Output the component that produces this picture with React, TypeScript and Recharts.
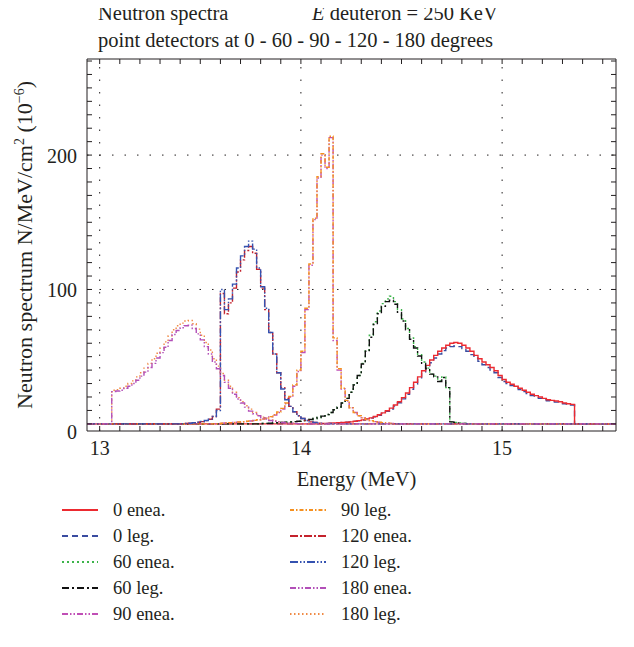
import React from 'react';
import { LineChart, Line, XAxis, YAxis, ReferenceLine, Legend } from 'recharts';

const X_MIN = 12.937;
const X_MAX = 15.566;
const Y_MIN = -5.3;
const Y_MAX = 271.5;
const STEP = 0.02; // histogram bin width used for the readings below (MeV)

const xLabels = [13, 14, 15];
const yLabels = [0, 100, 200];
const gridX = [13, 14, 15];
const gridY = [100, 200];

// 0 degrees, bins from 14.10 MeV
const start0 = 14.1;
const enea0 = [
  0.3, 0.4, 0.5, 0.6, 0.8, 1, 1.2, 1.5, 1.9, 2.4,
  3, 3.7, 4.5, 5.5, 6.8, 8.2, 9.8, 11.7, 14, 16.5,
  19.5, 23, 27, 31, 35, 39.5, 43.5, 47.5, 51, 54,
  56.5, 58.5, 60, 60.5, 60, 58.5, 56.5, 54, 51, 48.5,
  46, 44, 42, 39.5, 36, 33, 31, 29.5, 28, 26.5,
  25, 23.5, 22, 21, 20, 19, 18, 17.5, 17, 16.5,
  15.5, 15, 14.5, 0,
];
const leg0 = [
  0.3, 0.4, 0.5, 0.6, 0.8, 1, 1.2, 1.5, 1.9, 2.3,
  2.9, 3.5, 4.3, 5.2, 6.4, 7.8, 9.3, 11.1, 13.3, 15.7,
  18.6, 22, 25.8, 29.6, 33.5, 37.8, 41.7, 45.5, 49, 52,
  54.5, 56.5, 57.5, 58, 57.5, 56, 54, 51.5, 49, 46.5,
  44, 42, 40, 38, 34.5, 31.5, 30, 28.5, 27, 25.5,
  24, 22.5, 21, 20, 19, 18, 17.2, 16.7, 16.2, 15.7,
  15, 14.5, 14, 0,
];

// 60 degrees, bins from 13.80 MeV
const start60 = 13.8;
const enea60 = [
  0.3, 0.4, 0.5, 0.6, 0.8, 1, 1.2, 1.4, 1.7, 2,
  2.4, 2.8, 3.3, 4, 4.8, 5.8, 7, 8.5, 10.5, 12.5,
  15.5, 19, 23.5, 29, 36, 45, 55, 66, 76, 84,
  89.5, 93, 95, 91, 85, 78, 71, 64, 57.5, 51.5,
  46, 41.5, 37, 35.5, 32, 35, 27, 1.5, 1, 0.6,
  0.4, 0.2, 0,
];
const leg60 = [
  0.3, 0.4, 0.5, 0.6, 0.8, 1, 1.2, 1.4, 1.7, 2,
  2.4, 2.8, 3.3, 4, 4.8, 5.8, 7, 8.5, 10.5, 12.5,
  15.5, 19, 23.5, 29, 36, 44.5, 54, 64.5, 74, 82,
  87.5, 91, 92, 89, 83, 76.5, 70, 63, 56.5, 50.5,
  45, 41, 37, 35, 31.5, 34.5, 27, 1.5, 1, 0.6,
  0.4, 0.2, 0,
];

// 90 degrees, bins from 13.60 MeV
const start90 = 13.6;
const enea90 = [
  0.5, 0.7, 0.9, 1.1, 1.3, 1.5, 1.8, 2.1, 2.5, 3,
  3.6, 4.3, 5.2, 6.5, 8.5, 11, 15, 20, 28, 39,
  53, 85, 118, 152, 183, 200, 190, 213, 62, 40,
  26, 17, 12, 8.5, 6, 4.5, 3.3, 2.4, 1.7, 1.2,
  0.8, 0.5, 0.3, 0,
];
const leg90 = [
  0.5, 0.7, 0.9, 1.1, 1.4, 1.6, 1.9, 2.2, 2.6, 3.1,
  3.7, 4.4, 5.4, 6.8, 8.8, 11.5, 15.5, 20.5, 29, 40,
  54, 86, 119, 153, 184, 201, 191, 214, 64, 41,
  26.5, 17.5, 12, 8.5, 6, 4.5, 3.3, 2.4, 1.7, 1.2,
  0.8, 0.5, 0.3, 0,
];

// 120 degrees, bins from 13.40 MeV
const start120 = 13.4;
const enea120 = [
  0.2, 0.3, 0.5, 0.8, 1.2, 1.7, 2.4, 3.4, 5.5, 11,
  97, 82, 90, 101, 113, 122, 129, 132, 127, 115,
  101, 85, 68, 52, 38, 27, 19, 13, 9, 6,
  4, 2.5, 1.5, 1, 0.5, 0.2, 0,
];
const leg120 = [
  0.2, 0.3, 0.5, 0.8, 1.2, 1.8, 2.5, 3.5, 5.5, 10,
  100, 85, 93, 104, 116, 125, 132, 136, 130, 116,
  102, 86, 68, 52, 38, 26, 18, 13, 9, 6,
  4, 2.5, 1.5, 1, 0.5, 0.2, 0,
];

// 180 degrees, bins from 13.06 MeV
const start180 = 13.06;
const enea180 = [
  24, 24.5, 25, 26.5, 28, 30, 32.5, 35.5, 38.5, 42,
  45, 49, 53, 57, 62, 66.5, 69.5, 71.5, 73, 73.5,
  71, 67, 62.5, 57.5, 52, 46, 41, 36, 31, 26.5,
  22, 18.5, 15.5, 12.5, 9.5, 7.5, 6, 4.5, 3.5, 2.5,
  2, 1.5, 1, 0.7, 0.5, 0.3, 0.2, 0,
];
const leg180 = [
  25, 25.5, 26.5, 28, 30, 32, 35, 38, 41.5, 45,
  48.5, 52.5, 56.5, 61, 65.5, 70, 73, 75, 76.5, 77,
  74.5, 70.5, 66, 60.5, 55, 48.5, 43, 37.5, 32.5, 28,
  23.5, 19.5, 16.5, 13.5, 11, 8.5, 6.5, 5, 4, 3,
  2.2, 1.6, 1.1, 0.8, 0.5, 0.3, 0.2, 0,
];

const toHistogram = (start: number, values: number[]) => [
  { e: X_MIN, v: 0 },
  ...values.map((v, i) => ({ e: Math.round((start + i * STEP) * 1000) / 1000, v })),
  { e: X_MAX, v: 0 },
];

const SERIES = [
  { key: 'leg0', name: '0 leg.', color: '#3a4ca0', dash: '6 4', data: toHistogram(start0, leg0) },
  { key: 'enea0', name: '0 enea.', color: '#ec2a30', dash: undefined, data: toHistogram(start0, enea0) },
  { key: 'enea60', name: '60 enea.', color: '#3cb44a', dash: '2 3', data: toHistogram(start60, enea60) },
  { key: 'leg60', name: '60 leg.', color: '#111111', dash: '7 3 2 3', data: toHistogram(start60, leg60) },
  { key: 'enea90', name: '90 enea.', color: '#c04fb6', dash: '6 2 1.5 2 1.5 2', data: toHistogram(start90, enea90) },
  { key: 'leg90', name: '90 leg.', color: '#f5901f', dash: '4 2 1.5 2', data: toHistogram(start90, leg90) },
  { key: 'enea120', name: '120 enea.', color: '#c4222c', dash: '8 2 2 2', data: toHistogram(start120, enea120) },
  { key: 'leg120', name: '120 leg.', color: '#3452b0', dash: '8 2 1.5 2 1.5 2', data: toHistogram(start120, leg120) },
  { key: 'leg180', name: '180 leg.', color: '#f08a45', dash: '1.5 2.5', data: toHistogram(start180, leg180) },
  { key: 'enea180', name: '180 enea.', color: '#b24fb8', dash: '6 2 1.5 2 1.5 2', data: toHistogram(start180, enea180) },
];

const LEGEND_ORDER = [
  'enea0', 'leg0', 'enea60', 'leg60', 'enea90',
  'leg90', 'enea120', 'leg120', 'enea180', 'leg180',
];

const xMinor = Array.from({ length: 26 }, (_, i) => Math.round((13 + i * 0.1) * 10) / 10);
const yMinor = Array.from({ length: 28 }, (_, i) => i * 10);

const INK = '#231f20';
const FONT = '"Liberation Serif", "DejaVu Serif", serif';

const BottomTick = (props: any) => {
  const { x, y, payload } = props;
  return (
    <g>
      <line x1={x} y1={y} x2={x} y2={y - 5} stroke={INK} />
      {xLabels.includes(payload.value) && (
        <text x={x} y={y + 24} textAnchor="middle" fill={INK} fontSize={20} fontFamily={FONT}>
          {payload.value}
        </text>
      )}
    </g>
  );
};

const TopTick = (props: any) => {
  const { x, y } = props;
  return <line x1={x} y1={y} x2={x} y2={y + 5} stroke={INK} />;
};

const LeftTick = (props: any) => {
  const { x, y, payload } = props;
  const v = payload.value;
  return (
    <g>
      <line x1={x} y1={y} x2={x + 5} y2={y} stroke={INK} />
      {yLabels.includes(v) && (
        <text x={x - 10} y={y + (v === 0 ? 15 : 8)} textAnchor="end" fill={INK} fontSize={20} fontFamily={FONT}>
          {v}
        </text>
      )}
    </g>
  );
};

const RightTick = (props: any) => {
  const { x, y } = props;
  return <line x1={x} y1={y} x2={x - 5} y2={y} stroke={INK} />;
};

const TitleLabel = (props: any) => {
  const { x, y } = props.viewBox;
  return (
    <g fill={INK} fontSize={20.5} fontFamily={FONT}>
      <text x={x + 11} y={y - 38}>Neutron spectra</text>
      <text x={x + 225} y={y - 38}>
        <tspan fontStyle="italic">E</tspan> deuteron = 250 KeV
      </text>
      <text x={x + 11} y={y - 11}>point detectors at 0 - 60 - 90 - 120 - 180 degrees</text>
    </g>
  );
};

const XTitle = (props: any) => {
  const { x, y, width } = props.viewBox;
  return (
    <text x={x + width / 2 + 5} y={y + 55} textAnchor="middle" fill={INK} fontSize={20.5} fontFamily={FONT}>
      Energy (MeV)
    </text>
  );
};

const YTitle = (props: any) => {
  const { x, y, height } = props.viewBox;
  const cx = x - 54;
  const cy = y + height / 2;
  return (
    <text
      x={cx}
      y={cy}
      transform={`rotate(-90, ${cx}, ${cy})`}
      textAnchor="middle"
      fill={INK}
      fontSize={22}
      fontFamily={FONT}
    >
      Neutron spectrum N/MeV/cm
      <tspan fontSize={14} dy={-8}>2</tspan>
      <tspan dy={8}> (10</tspan>
      <tspan fontSize={14} dy={-8}>−6</tspan>
      <tspan dy={8}>)</tspan>
    </text>
  );
};

const LegendBox = () => (
  <div
    style={{
      display: 'grid',
      gridTemplateColumns: '228px 200px',
      gridTemplateRows: 'repeat(5, 26px)',
      gridAutoFlow: 'column',
      fontFamily: FONT,
      fontSize: 18.5,
      color: INK,
    }}
  >
    {LEGEND_ORDER.map((k) => {
      const s = SERIES.find((d) => d.key === k)!;
      return (
        <div key={k} style={{ display: 'flex', alignItems: 'center' }}>
          <svg width={36} height={8}>
            <line x1={0} y1={4} x2={36} y2={4} stroke={s.color} strokeWidth={1.8} strokeDasharray={s.dash} />
          </svg>
          <span style={{ marginLeft: 15 }}>{s.name}</span>
        </div>
      );
    })}
  </div>
);

export default function App() {
  // pull the chart up into the body margin so the first title line fits
  return (
    <div style={{ marginTop: -8 }}>
      <LineChart width={618} height={635} margin={{ top: 58, right: 9, bottom: 203, left: 78 }}>
        <XAxis
          dataKey="e"
          type="number"
          domain={[X_MIN, X_MAX]}
          allowDataOverflow
          ticks={xMinor}
          interval={0}
          height={1}
          tickSize={0}
          tickMargin={0}
          tickLine={false}
          tick={<BottomTick />}
          axisLine={{ stroke: INK }}
          label={<XTitle />}
        />
        <XAxis
          xAxisId="top"
          orientation="top"
          dataKey="e"
          type="number"
          domain={[X_MIN, X_MAX]}
          allowDataOverflow
          ticks={xMinor}
          interval={0}
          height={1}
          tickSize={0}
          tickMargin={0}
          tickLine={false}
          tick={<TopTick />}
          axisLine={{ stroke: INK }}
          label={<TitleLabel />}
        />
        <YAxis
          type="number"
          domain={[Y_MIN, Y_MAX]}
          allowDataOverflow
          ticks={yMinor}
          interval={0}
          width={1}
          tickSize={0}
          tickMargin={0}
          tickLine={false}
          tick={<LeftTick />}
          axisLine={{ stroke: INK }}
          label={<YTitle />}
        />
        <YAxis
          yAxisId="right"
          orientation="right"
          type="number"
          domain={[Y_MIN, Y_MAX]}
          allowDataOverflow
          ticks={yMinor}
          interval={0}
          width={1}
          tickSize={0}
          tickMargin={0}
          tickLine={false}
          tick={<RightTick />}
          axisLine={{ stroke: INK }}
        />
        {gridX.map((g) => (
          <ReferenceLine key={`gx${g}`} x={g} stroke={INK} strokeDasharray="1.5 11" />
        ))}
        {gridY.map((g) => (
          <ReferenceLine key={`gy${g}`} y={g} stroke={INK} strokeDasharray="1.5 11" />
        ))}
        {SERIES.map((s) => (
          <Line
            key={s.key}
            data={s.data}
            dataKey="v"
            name={s.name}
            type="stepAfter"
            stroke={s.color}
            strokeWidth={1.4}
            strokeDasharray={s.dash}
            dot={false}
            activeDot={false}
            isAnimationActive={false}
          />
        ))}
        <Legend
          verticalAlign="middle"
          align="center"
          content={<LegendBox />}
          wrapperStyle={{ top: 497, left: 54, width: 'auto' }}
        />
      </LineChart>
    </div>
  );
}
